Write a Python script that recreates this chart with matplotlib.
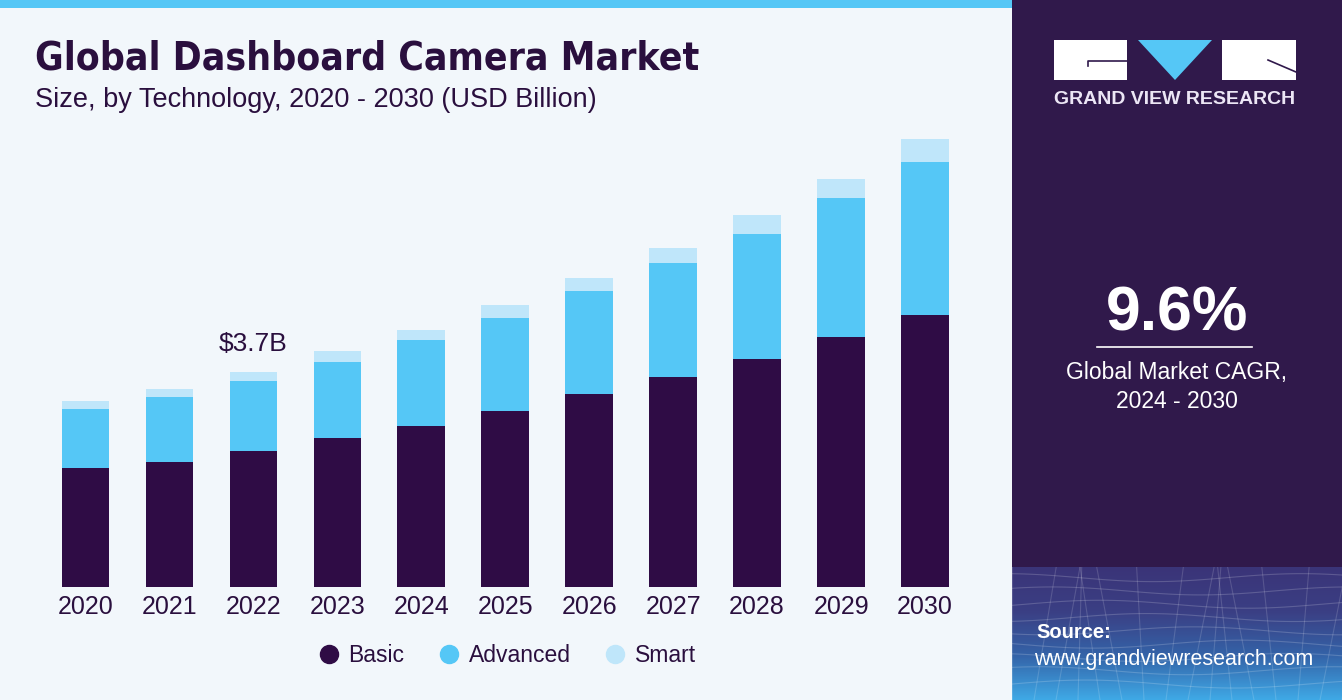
import matplotlib.pyplot as plt
import numpy as np
from matplotlib.patches import Rectangle, Polygon
from matplotlib.lines import Line2D
from matplotlib.colors import LinearSegmentedColormap

# Data (USD Billion)
years = ['2020', '2021', '2022', '2023', '2024', '2025', '2026', '2027', '2028', '2029', '2030']
basic = [2.04, 2.15, 2.34, 2.56, 2.77, 3.02, 3.32, 3.61, 3.92, 4.29, 4.68]
advanced = [1.02, 1.11, 1.20, 1.31, 1.48, 1.61, 1.76, 1.96, 2.14, 2.39, 2.62]
smart = [0.14, 0.14, 0.16, 0.18, 0.17, 0.22, 0.24, 0.26, 0.34, 0.33, 0.40]
series_names = ['Basic', 'Advanced', 'Smart']
highlight_year = '2022'
highlight_label = '$3.7B'
cagr = '9.6%'

c_basic = '#2f0c45'
c_adv = '#55c7f6'
c_smart = '#bfe6fa'
c_bg = '#f2f7fb'
c_panel = '#30194b'
c_text = '#2a0f3e'

plt.rcParams['font.family'] = ['Liberation Sans', 'DejaVu Sans']

fig = plt.figure(figsize=(13.42, 7), dpi=100)
fig.patch.set_facecolor('white')

W, H = 1342, 700
def fx(px):
    return px / W
def fy(py):
    return 1 - py / H

# backgrounds
fig.patches.append(Rectangle((0, 0), fx(1012), 1, transform=fig.transFigure,
                             facecolor=c_bg, edgecolor='none', zorder=-10))
fig.patches.append(Rectangle((0, fy(8)), fx(1012), 8 / H, transform=fig.transFigure,
                             facecolor=c_adv, edgecolor='none', zorder=-9))
fig.patches.append(Rectangle((fx(1012), 0), 1 - fx(1012), 1, transform=fig.transFigure,
                             facecolor=c_panel, edgecolor='none', zorder=-10))

# gradient at bottom of right panel
gax = fig.add_axes([fx(1012), 0, 1 - fx(1012), (H - 567) / H], zorder=1)
grad = np.linspace(0, 1, 200).reshape(-1, 1)
cmap = LinearSegmentedColormap.from_list('g', ['#3fa9e6', '#3463a8', '#3b3f84', '#3a3478'])
gax.imshow(grad, aspect='auto', cmap=cmap, extent=[0, 1, 0, 1], origin='lower')
# faint mesh lines
xs = np.linspace(0, 1, 60)
for k in range(9):
    gax.plot(xs, 0.12 + k * 0.1 + 0.03 * np.sin(xs * 7 + k), color='white', alpha=0.18, lw=0.8)
for k in range(16):
    x0 = k / 15
    gax.plot([x0, x0 + 0.08 * np.sin(k)], [0, 1], color='white', alpha=0.15, lw=0.8)
gax.set_xlim(0, 1)
gax.set_ylim(0, 1)
gax.axis('off')

# main chart
ax = fig.add_axes([fx(43.5), fy(586.7), fx(967 - 43.5), (586.7 - 120) / H], zorder=2)
ax.set_facecolor('none')
x = np.arange(len(years))
bw = 0.567
b = np.array(basic)
a = np.array(advanced)
s = np.array(smart)
ax.bar(x, b, width=bw, color=c_basic, label=series_names[0], zorder=3)
ax.bar(x, a, width=bw, bottom=b, color=c_adv, label=series_names[1], zorder=3)
ax.bar(x, s, width=bw, bottom=b + a, color=c_smart, label=series_names[2], zorder=3)

ax.set_xlim(-0.5, len(years) - 0.5)
ax.set_ylim(0, 8.03)
ax.set_xticks(x)
ax.set_xticklabels(years, fontsize=18, color=c_text)
ax.tick_params(axis='x', length=0, pad=6)
ax.set_yticks([])
for sp in ax.spines.values():
    sp.set_visible(False)

hi = years.index(highlight_year)
ax.annotate(highlight_label, (x[hi], b[hi] + a[hi] + s[hi]), textcoords='offset points',
            xytext=(0, 11), ha='center', va='bottom', fontsize=19, color=c_text)

# legend
handles = [Line2D([], [], marker='o', linestyle='none', markersize=13, color=c)
           for c in (c_basic, c_adv, c_smart)]
fig.legend(handles, series_names, loc='center', bbox_to_anchor=(fx(501), fy(656)),
           ncol=3, frameon=False, fontsize=16.5, labelcolor=c_text,
           handletextpad=-0.15, columnspacing=0.95)

# titles
fig.text(fx(35), fy(59), 'Global Dashboard Camera Market', fontsize=28, fontweight='bold',
         family=['DejaVu Sans'], fontstretch='condensed', color=c_text, va='center', ha='left')
fig.text(fx(35), fy(100), 'Size, by Technology, 2020 - 2030 (USD Billion)', fontsize=19.5,
         color=c_text, va='center', ha='left')

# logo
fig.patches.append(Rectangle((fx(1054), fy(80)), fx(1127 - 1054), 40 / H, transform=fig.transFigure,
                             facecolor='white', edgecolor='none'))
fig.patches.append(Polygon([(fx(1138), fy(40)), (fx(1212), fy(40)), (fx(1175), fy(80))],
                           closed=True, transform=fig.transFigure, facecolor=c_adv, edgecolor='none'))
fig.patches.append(Rectangle((fx(1222), fy(80)), fx(1296 - 1222), 40 / H, transform=fig.transFigure,
                             facecolor='white', edgecolor='none'))
fig.lines.append(Line2D([fx(1088), fx(1088), fx(1127)], [fy(66), fy(61), fy(61)],
                        transform=fig.transFigure, color=c_panel, lw=1.2))
fig.lines.append(Line2D([fx(1268), fx(1296)], [fy(60), fy(72)],
                        transform=fig.transFigure, color=c_panel, lw=1.2))
fig.text(fx(1175), fy(100), 'GRAND VIEW RESEARCH', fontsize=14, fontweight='bold',
         color='#ece6f5', ha='center', va='center')

# CAGR block
fig.text(fx(1177), fy(314), cagr, fontsize=45, fontweight='bold', color='white',
         ha='center', va='center')
fig.lines.append(Line2D([fx(1097), fx(1252)], [fy(347), fy(347)],
                        transform=fig.transFigure, color='white', lw=1.2))
fig.text(fx(1177), fy(373), 'Global Market CAGR,', fontsize=16.5, color='white',
         ha='center', va='center')
fig.text(fx(1177), fy(402), '2024 - 2030', fontsize=16.5, color='white',
         ha='center', va='center')

# source
fig.text(fx(1036), fy(632), 'Source:', fontsize=14.5, fontweight='bold', color='white',
         ha='left', va='center', zorder=5)
fig.text(fx(1034), fy(659), 'www.grandviewresearch.com', fontsize=15.5, color='white',
         ha='left', va='center', zorder=5)

fig.savefig('out.png', dpi=100)
